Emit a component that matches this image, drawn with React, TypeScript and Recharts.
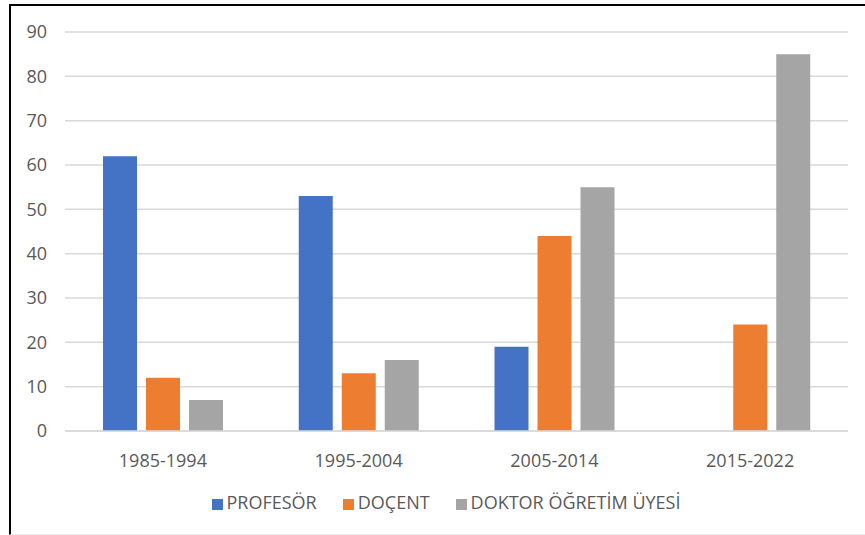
import * as React from 'react';
import {
  BarChart,
  Bar,
  XAxis,
  YAxis,
  CartesianGrid,
  Legend,
} from 'recharts';

const periods = ['1985-1994', '1995-2004', '2005-2014', '2015-2022'];
const profesor = [62, 53, 19, 0];
const docent = [12, 13, 44, 24];
const doktor = [7, 16, 55, 85];
const yTicks = [0, 10, 20, 30, 40, 50, 60, 70, 80, 90];
const seriesNames = ['PROFESÖR', 'DOÇENT', 'DOKTOR ÖĞRETİM ÜYESİ'];

const data = periods.map((name, i) => ({
  name,
  profesor: profesor[i],
  docent: docent[i],
  doktor: doktor[i],
}));

const font = '"Open Sans", sans-serif';
const textColor = '#595959';

export default function App() {
  return (
    <div
      style={{
        position: 'absolute',
        left: 0,
        top: 0,
        width: 865,
        height: 535,
        background: '#fff',
        fontFamily: font,
      }}
    >
      {/* frame of the screenshot: left + top black, faint bottom */}
      <div
        style={{
          position: 'absolute',
          left: 9,
          top: 4,
          width: 856,
          height: 528,
          borderLeft: '2px solid #000',
          borderTop: '2px solid #000',
          borderBottom: '1px solid #ececec',
        }}
      />
      <div style={{ position: 'absolute', left: 0, top: 0 }}>
        <BarChart
          width={865}
          height={535}
          data={data}
          barSize={34}
          barGap={9}
          margin={{ top: 32, right: 17, left: 0, bottom: 64 }}
        >
          <CartesianGrid vertical={false} stroke="#d9d9d9" strokeWidth={1.5} />
          <XAxis
            dataKey="name"
            height={40}
            tickLine={false}
            axisLine={{ stroke: '#d9d9d9', strokeWidth: 1.5 }}
            tickMargin={17}
            tick={{ fill: textColor, fontSize: 18, fontFamily: font }}
          />
          <YAxis
            width={65}
            domain={[0, 90]}
            ticks={yTicks}
            interval={0}
            tickLine={false}
            axisLine={false}
            tickMargin={12}
            tick={{ fill: textColor, fontSize: 18, fontFamily: font }}
          />
          <Legend
            verticalAlign="middle"
            align="center"
            iconType="square"
            iconSize={11}
            itemSorter={(item: any) => seriesNames.indexOf(item.value)}
            wrapperStyle={{ top: 490, left: 13, width: 892 }}
            formatter={(value: string) => (
              <span style={{ color: textColor, fontSize: 18, fontFamily: font, marginRight: 16 }}>
                {value}
              </span>
            )}
          />
          <Bar dataKey="profesor" name={seriesNames[0]} fill="#4472C4" isAnimationActive={false} />
          <Bar dataKey="docent" name={seriesNames[1]} fill="#ED7D31" isAnimationActive={false} />
          <Bar dataKey="doktor" name={seriesNames[2]} fill="#A5A5A5" isAnimationActive={false} />
        </BarChart>
      </div>
    </div>
  );
}
